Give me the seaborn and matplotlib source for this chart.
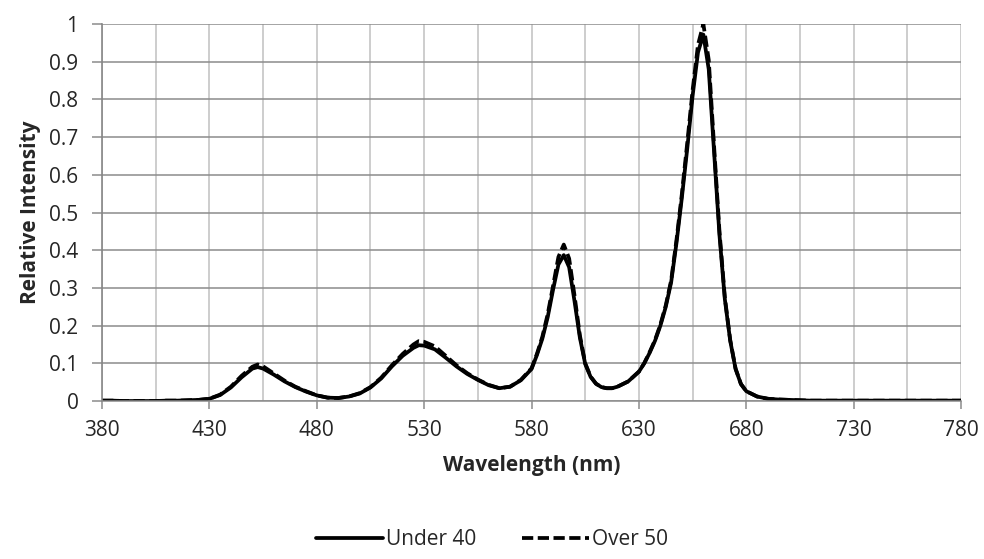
import pandas as pd
import matplotlib.pyplot as plt
import matplotlib.ticker as mticker
import seaborn as sns

wavelength = [380, 385, 390, 395, 400, 405, 410, 415, 420, 425, 430, 435, 440, 445,
              450, 452.5, 455, 460, 465, 470, 475, 480, 485, 490, 495, 500, 505, 510,
              515, 520, 525, 527.5, 530, 535, 540, 545, 550, 555, 560, 565, 570, 575,
              580, 582.5, 585, 587.5, 590, 592.5, 595, 597.5, 600, 602.5, 605, 607.5,
              610, 612.5, 615, 617.5, 620, 625, 630, 632.5, 635, 637.5, 640, 642.5,
              645, 647.5, 650, 652.5, 655, 657.5, 660, 662.5, 665, 667.5, 670, 672.5,
              675, 677.5, 680, 685, 690, 695, 700, 705, 710, 720, 730, 740, 750, 760,
              770, 780]

under_40 = [0.001, 0.001, 0.000, 0.000, 0.000, 0.000, 0.001, 0.001, 0.002, 0.003,
            0.006, 0.016, 0.036, 0.063, 0.086, 0.090, 0.086, 0.070, 0.052, 0.037,
            0.025, 0.015, 0.009, 0.008, 0.012, 0.020, 0.036, 0.060, 0.092, 0.120,
            0.141, 0.148, 0.147, 0.137, 0.115, 0.092, 0.072, 0.056, 0.042, 0.034,
            0.038, 0.055, 0.085, 0.122, 0.165, 0.222, 0.295, 0.362, 0.387, 0.355,
            0.265, 0.168, 0.098, 0.064, 0.046, 0.037, 0.034, 0.034, 0.038, 0.052,
            0.078, 0.100, 0.128, 0.160, 0.200, 0.250, 0.315, 0.420, 0.540, 0.670,
            0.810, 0.925, 0.972, 0.880, 0.660, 0.440, 0.270, 0.160, 0.085, 0.045,
            0.026, 0.012, 0.006, 0.004, 0.003, 0.002, 0.001, 0.001, 0.001, 0.001,
            0.001, 0.001, 0.001, 0.001]

over_50 = [0.001, 0.001, 0.000, 0.000, 0.000, 0.000, 0.001, 0.001, 0.002, 0.003,
           0.006, 0.017, 0.038, 0.067, 0.091, 0.097, 0.092, 0.073, 0.054, 0.038,
           0.026, 0.015, 0.009, 0.008, 0.012, 0.021, 0.037, 0.062, 0.095, 0.125,
           0.150, 0.159, 0.157, 0.145, 0.120, 0.095, 0.074, 0.057, 0.043, 0.034,
           0.038, 0.056, 0.087, 0.125, 0.170, 0.230, 0.305, 0.382, 0.415, 0.378,
           0.280, 0.174, 0.100, 0.065, 0.046, 0.037, 0.034, 0.034, 0.038, 0.052,
           0.078, 0.101, 0.130, 0.162, 0.203, 0.254, 0.320, 0.428, 0.550, 0.685,
           0.825, 0.945, 1.000, 0.905, 0.675, 0.450, 0.275, 0.162, 0.086, 0.045,
           0.026, 0.012, 0.006, 0.004, 0.003, 0.002, 0.001, 0.001, 0.001, 0.001,
           0.001, 0.001, 0.001, 0.001]

x_labels = list(range(380, 781, 50))
x_grid = list(range(405, 781, 50))

df = pd.concat([
    pd.DataFrame({"Wavelength": wavelength, "Intensity": under_40, "Group": "Under 40"}),
    pd.DataFrame({"Wavelength": wavelength, "Intensity": over_50, "Group": "Over 50"}),
])

sns.set_style("white")
plt.rcParams["font.family"] = ["Open Sans", "DejaVu Sans"]
plt.rcParams["lines.solid_joinstyle"] = "round"
plt.rcParams["lines.dash_joinstyle"] = "round"

fig = plt.figure(figsize=(9.84, 5.59), dpi=100)
ax = fig.add_axes([0.1037, 0.2826, 0.873, 0.6744])

sns.lineplot(data=df, x="Wavelength", y="Intensity", hue="Group", style="Group",
             palette={"Under 40": "black", "Over 50": "black"},
             dashes={"Under 40": "", "Over 50": (3, 1.2)},
             linewidth=2.7, sort=False, ax=ax, legend=False)

ax.set_xlim(380, 780)
ax.set_ylim(0, 1)
ax.set_xticks(x_labels)
ax.set_xticks(x_grid, minor=True)
ax.yaxis.set_major_locator(mticker.MultipleLocator(0.1))
ax.yaxis.set_major_formatter(mticker.FuncFormatter(lambda v, p: f"{v:g}"))

ax.grid(True, which="major", axis="y", color="#8c8c8c", linewidth=1.1)
ax.grid(True, which="both", axis="x", color="#c0c0c0", linewidth=1.1)
ax.set_axisbelow(True)

for side in ["top", "right"]:
    ax.spines[side].set_visible(False)
ax.spines["left"].set_color("#868686")
ax.spines["left"].set_linewidth(1.2)
ax.spines["bottom"].set_color("#8c8c8c")
ax.spines["bottom"].set_linewidth(1.1)

ax.tick_params(axis="x", which="major", direction="out", length=6, width=1.1,
               color="#8c8c8c", labelsize=15, pad=8, bottom=True)
ax.tick_params(axis="x", which="minor", length=0)
ax.tick_params(axis="y", direction="out", length=7, width=1.1,
               color="#8c8c8c", labelsize=15, pad=10, left=True)

ax.set_xlabel("Wavelength (nm)", fontsize=15, fontweight="bold", labelpad=10)
ax.set_ylabel("Relative Intensity", fontsize=15, fontweight="bold", labelpad=6)

handles = [plt.Line2D([], [], color="black", linewidth=2.7),
           plt.Line2D([], [], color="black", linewidth=2.7, dashes=(3, 1.2))]
fig.legend(handles, ["Under 40", "Over 50"], loc="center", bbox_to_anchor=(0.5, 0.035),
           ncol=2, frameon=False, fontsize=15, handlelength=3.2, handletextpad=0.15,
           columnspacing=2.2)

fig.savefig("out.png", dpi=100)
